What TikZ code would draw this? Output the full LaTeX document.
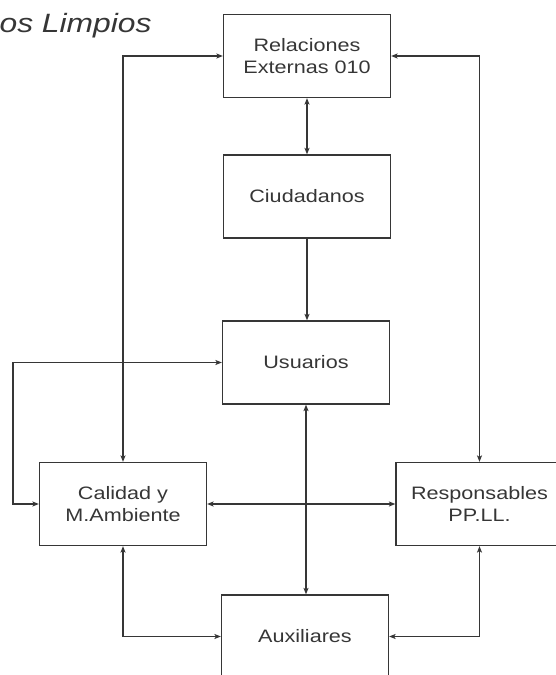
\documentclass[tikz,border=0pt]{standalone}
\usepackage{fontspec}
\setmainfont{Liberation Sans}[FakeStretch=1.2]
\usepackage{tikz}
\usetikzlibrary{arrows.meta, positioning}
\definecolor{inkgray}{HTML}{363636}

\begin{document}
\begin{tikzpicture}[x=1pt, y=1pt, line width=1.2pt, draw=inkgray,
    box/.style={draw=inkgray, line width=1.2pt, minimum width=167, minimum height=83,
        align=center, text=inkgray, font=\fontsize{18}{22}\selectfont},
    >={Stealth[length=6.5pt, width=5pt, inset=1.5pt]}]
    \useasboundingbox (0,0) rectangle (555,675);

    % Title
    \node[anchor=base west, inner sep=0, text=inkgray, font=\fontsize{26.5}{30}\selectfont\itshape]
        (title) at (-1, 642) {os Limpios};

    % Boxes
    \node[box] (rel) at (307, 619) {Relaciones\\Externas 010};
    \node[box] (ciu) at (307, 478.5) {Ciudadanos};
    \node[box] (usu) at (306, 312.5) {Usuarios};
    \node[box] (cal) at (123, 171) {Calidad y\\M.Ambiente};
    \node[box] (res) at (479.5, 171) {Responsables\\PP.LL.};
    \node[box] (aux) at (305, 38.5) {Auxiliares};

    % Centre column
    \draw[<->] (rel.south) -- (ciu.north);
    \draw[->] (ciu.south) -- (ciu.south |- usu.north);
    \draw[<->] (usu.south) -- (usu.south |- aux.north);

    % Outer links
    \draw[<->] (rel.west) -| (cal.north);
    \draw[<->] (rel.east) -| (res.north);
    \draw[<->] (cal.west) -- ++(-26,0) |- (usu.west);
    \draw[<->] (cal.east) -- (res.west);
    \draw[<->] (cal.south) |- (aux.west);
    \draw[<->] (res.south) |- (aux.east);
\end{tikzpicture}
\end{document}
